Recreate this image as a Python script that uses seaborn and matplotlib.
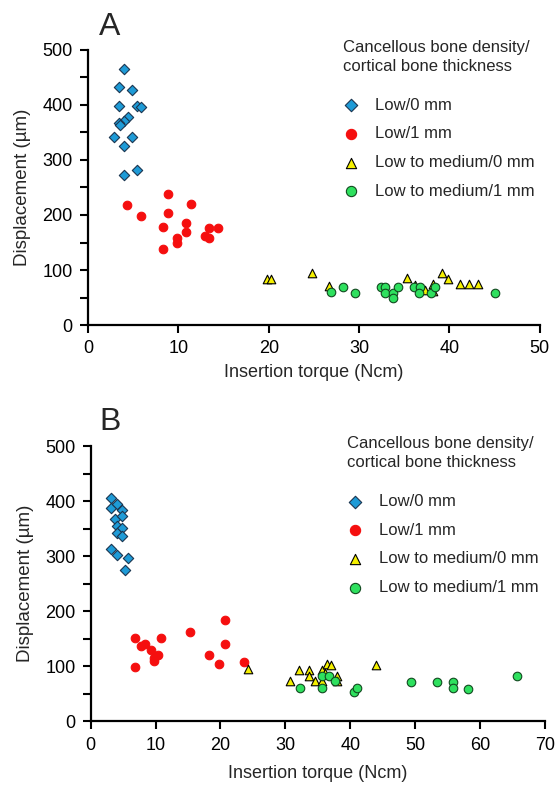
import matplotlib
matplotlib.use("Agg")
import matplotlib.pyplot as plt
import seaborn as sns
import pandas as pd

# ---- data ----
groups = ["Low/0 mm", "Low/1 mm", "Low to medium/0 mm", "Low to medium/1 mm"]

a_low0_x = [4.0, 3.4, 4.9, 3.4, 5.4, 5.9, 4.4, 4.0, 3.4, 3.5, 2.9, 4.9, 4.0, 5.4, 4.0]
a_low0_y = [465, 432, 427, 398, 398, 397, 378, 371, 368, 364, 342, 341, 326, 282, 272]
a_low1_x = [4.3, 5.9, 8.9, 8.9, 8.3, 8.3, 9.9, 9.9, 10.9, 10.9, 11.4, 12.9, 13.4, 13.4, 14.4]
a_low1_y = [218, 199, 239, 203, 179, 139, 159, 150, 185, 170, 220, 161, 159, 177, 177]
a_med0_x = [19.8, 20.3, 24.8, 26.7, 35.3, 36.2, 38.2, 38.2, 37.3, 39.2, 39.8, 41.2, 42.2, 43.2]
a_med0_y = [83, 83, 94, 71, 85, 73, 75, 62, 64, 94, 84, 75, 75, 75]
a_med1_x = [26.9, 28.2, 29.6, 32.4, 32.9, 32.9, 33.8, 33.8, 34.3, 36.1, 36.7, 36.6, 38.0, 38.4, 45.0]
a_med1_y = [61, 70, 59, 70, 70, 59, 59, 50, 70, 70, 70, 59, 59, 70, 59]

b_low0_x = [3.1, 3.1, 4.1, 4.8, 3.7, 4.8, 4.1, 4.8, 4.1, 4.8, 3.1, 4.1, 5.7, 5.2]
b_low0_y = [405, 388, 395, 384, 367, 373, 355, 352, 343, 336, 313, 303, 297, 275]
b_low1_x = [6.8, 6.8, 7.8, 8.3, 9.3, 9.8, 9.8, 10.3, 10.8, 15.3, 18.2, 19.7, 20.7, 20.7, 23.7]
b_low1_y = [151, 99, 137, 141, 129, 110, 115, 120, 151, 163, 120, 105, 184, 141, 107]
b_med0_x = [24.2, 30.7, 32.1, 33.6, 33.6, 34.6, 35.6, 35.6, 36.5, 37.1, 38.0, 38.0, 44.0, 36.1]
b_med0_y = [95, 73, 94, 94, 83, 73, 94, 73, 105, 103, 83, 73, 103, 88]
b_med1_x = [32.2, 35.6, 35.6, 36.7, 37.7, 40.6, 41.1, 49.4, 53.4, 55.9, 55.9, 58.2, 65.7]
b_med1_y = [60, 60, 82, 82, 73, 53, 60, 71, 71, 71, 60, 59, 82]

legend_title = "Cancellous bone density/\ncortical bone thickness"

rows = []
for panel, sets in [("A", [(a_low0_x, a_low0_y), (a_low1_x, a_low1_y), (a_med0_x, a_med0_y), (a_med1_x, a_med1_y)]),
                    ("B", [(b_low0_x, b_low0_y), (b_low1_x, b_low1_y), (b_med0_x, b_med0_y), (b_med1_x, b_med1_y)])]:
    for g, (xs, ys) in zip(groups, sets):
        for x, y in zip(xs, ys):
            rows.append({"panel": panel, "group": g, "torque": x, "disp": y})
df = pd.DataFrame(rows)

# ---- style ----
sns.set_style("ticks")
plt.rcParams["font.family"] = ["Liberation Sans", "DejaVu Sans"]

styles = {
    "Low/0 mm": dict(marker="D", color="#1E9BD7", edgecolor="#1a3550", s=28),
    "Low/1 mm": dict(marker="o", color="#F50F0F", edgecolor="#F50F0F", s=38),
    "Low to medium/0 mm": dict(marker="^", color="#F5F000", edgecolor="black", s=38),
    "Low to medium/1 mm": dict(marker="o", color="#2EE05E", edgecolor="#124a20", s=38),
}

fig = plt.figure(figsize=(5.57, 7.91), dpi=100)
ax_a = fig.add_axes([0.158, 0.589, 0.811, 0.348])
ax_b = fig.add_axes([0.163, 0.088, 0.815, 0.348])

for ax, panel, xmax in [(ax_a, "A", 50), (ax_b, "B", 70)]:
    sub = df[df.panel == panel]
    for g in groups:
        st = styles[g]
        sns.scatterplot(data=sub[sub.group == g], x="torque", y="disp", ax=ax,
                        marker=st["marker"], color=st["color"], edgecolor=st["edgecolor"],
                        s=st["s"], linewidth=0.8, label=g, zorder=3)
    ax.set_xlim(0, xmax)
    ax.set_ylim(0, 500)
    ax.set_xticks(range(0, xmax + 1, 10))
    ax.set_yticks(range(0, 501, 100))
    ax.set_yticks(range(50, 500, 100), minor=True)
    ax.tick_params(axis="both", which="both", direction="out", length=6, width=1.5,
                   labelsize=13, colors="black", pad=5)
    for sp in ["left", "bottom"]:
        ax.spines[sp].set_linewidth(1.6)
        ax.spines[sp].set_color("black")
    sns.despine(ax=ax)
    ax.set_xlabel("Insertion torque (Ncm)", fontsize=13, labelpad=5 if panel == "A" else 8)
    ax.set_ylabel("Displacement (µm)", fontsize=13.5, labelpad=8)
    leg = ax.legend(title=legend_title, frameon=False, loc="upper left",
                    bbox_to_anchor=(0.55, 1.06), fontsize=12, title_fontsize=12,
                    alignment="left", labelspacing=0.82, handlelength=1.0,
                    handletextpad=0.9, borderaxespad=0, markerscale=1.2)
    leg.get_title().set_linespacing(1.35)
    leg._legend_box.sep = 17

fig.text(0.178, 0.956, "A", fontsize=23, ha="left", va="baseline")
fig.text(0.178, 0.456, "B", fontsize=23, ha="left", va="baseline")

fig.savefig("out.png", dpi=100)
